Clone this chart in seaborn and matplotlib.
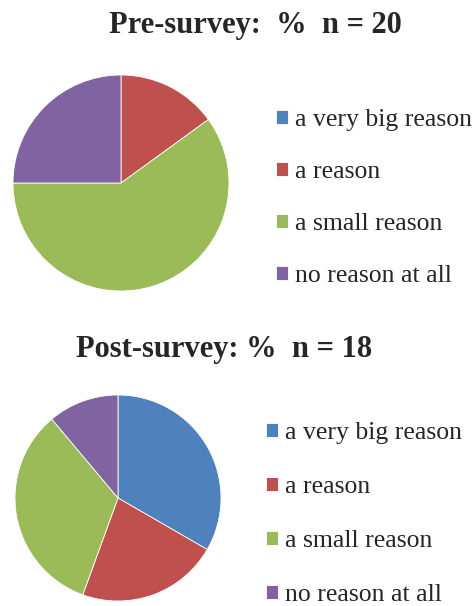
import matplotlib
matplotlib.use("Agg")
import matplotlib.pyplot as plt
import seaborn as sns

categories = ["a very big reason", "a reason", "a small reason", "no reason at all"]
pre_counts = [0, 3, 12, 5]
post_counts = [6, 4, 6, 2]
pre_title = "Pre-survey:  %  n = 20"
post_title = "Post-survey: %  n = 18"
colors = ["#4F81BD", "#C0504D", "#9BBB59", "#8064A2"]

sns.set_theme(style="white")
plt.rcParams['font.family'] = ['Liberation Serif', 'DejaVu Serif']

W, H = 475, 606
fig = plt.figure(figsize=(W / 100, H / 100), dpi=100)
fig.patch.set_facecolor("white")

def add_pie(cx, cy, r, counts, leg_x, leg_y, spacing):
    ax = fig.add_axes([(cx - r) / W, (H - cy - r) / H, 2 * r / W, 2 * r / H])
    wedges, _ = ax.pie(counts, colors=sns.color_palette(colors), startangle=90,
                       counterclock=False, radius=1,
                       wedgeprops=dict(edgecolor="white", linewidth=0.6))
    ax.set_xlim(-1.0, 1.0)
    ax.set_ylim(-1.0, 1.0)
    ax.set_aspect("equal")
    ax.axis("off")
    fig.legend(wedges, categories, loc="center left",
               bbox_to_anchor=(leg_x / W, 1 - leg_y / H),
               frameon=False, fontsize=18.5, handlelength=0.47, handleheight=0.47,
               handletextpad=0.28, labelspacing=spacing, borderpad=0,
               borderaxespad=0)
    return ax

add_pie(121, 183, 108, pre_counts, 276, 198, 1.17)
add_pie(118, 498, 103, post_counts, 266, 514, 1.24)

fig.text(255 / W, 1 - 25 / H, pre_title, ha="center", va="center",
         fontsize=22, fontweight="bold")
fig.text(224 / W, 1 - 350 / H, post_title, ha="center", va="center",
         fontsize=22, fontweight="bold")

fig.savefig("out.png", dpi=100, facecolor="white")
